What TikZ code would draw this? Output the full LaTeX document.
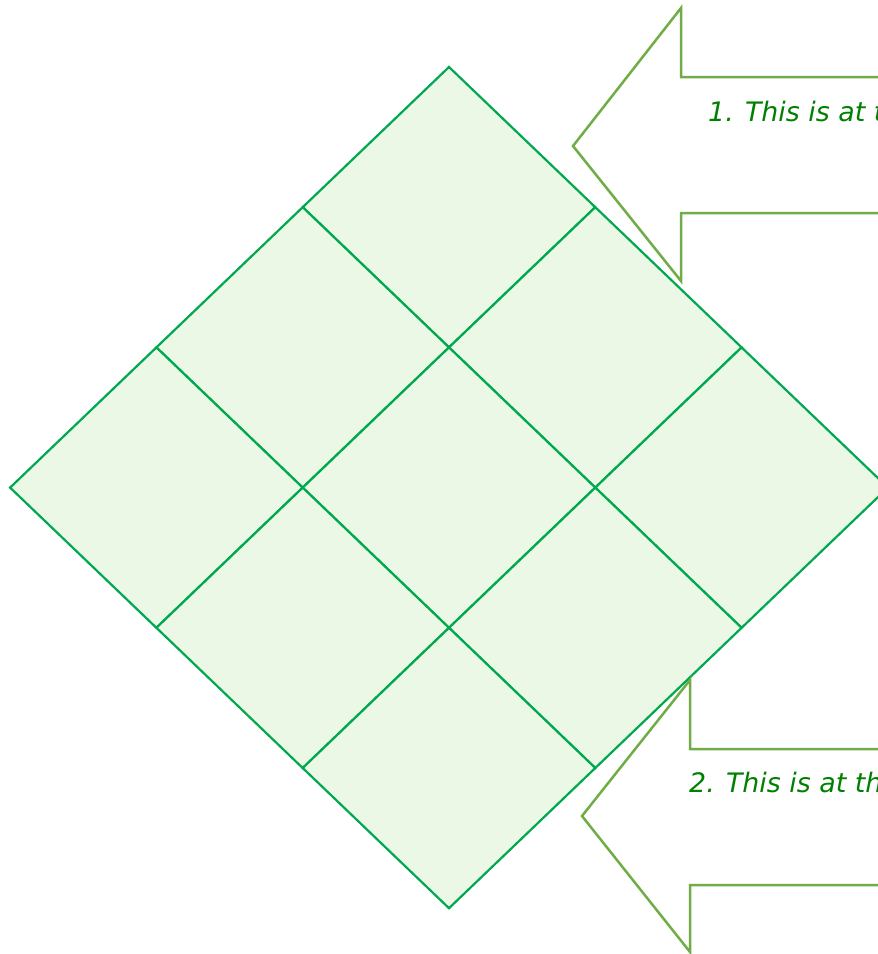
\documentclass[tikz,border=0pt]{standalone}
\usepackage{fontspec}
\usetikzlibrary{calc}
\newfontfamily\callfont{DejaVu Sans}
\definecolor{cellline}{RGB}{0,168,80}
\definecolor{cellfill}{RGB}{235,248,230}
\definecolor{arrowline}{RGB}{112,173,71}
\definecolor{textgreen}{RGB}{0,128,0}
\tikzset{
  cell/.style={draw=cellline, fill=cellfill, line width=2.2pt, line join=miter},
  callout/.style={draw=arrowline, fill=white, line width=2.5pt, line join=miter},
  calltext/.style={text=textgreen, font=\callfont\itshape\fontsize{26.8}{32}\selectfont, inner sep=0pt, anchor=base west}
}
\begin{document}
\begin{tikzpicture}[x=1pt,y=-1pt]
\useasboundingbox (0,0) rectangle (878,954);
\clip (0,0) rectangle (878,954);
\def\hw{146.3}
\def\hh{140.2}
% 3x3 grid of diamonds
\foreach \i in {0,1,2}{
  \foreach \j in {0,1,2}{
    \coordinate (c\i\j) at ({449+(\i-\j)*\hw},{207.2+(\i+\j)*\hh});
    \draw[cell] ($(c\i\j)+(0,-\hh)$) -- ($(c\i\j)+(\hw,0)$) -- ($(c\i\j)+(0,\hh)$) -- ($(c\i\j)+(-\hw,0)$) -- cycle;
  }
}
% callout arrow 1
\draw[callout] (900,77) -- (681,77) -- (681,8) -- (573,146) -- (681,281) -- (681,213) -- (900,213);
\node[calltext] (t1) at (708,121) {1. This is at t};
% callout arrow 2
\draw[callout] (900,749) -- (690,749) -- (690,680) -- (582,816) -- (690,952) -- (690,885) -- (900,885);
\node[calltext] (t2) at (689,792) {2. This is at th};
\end{tikzpicture}
\end{document}
